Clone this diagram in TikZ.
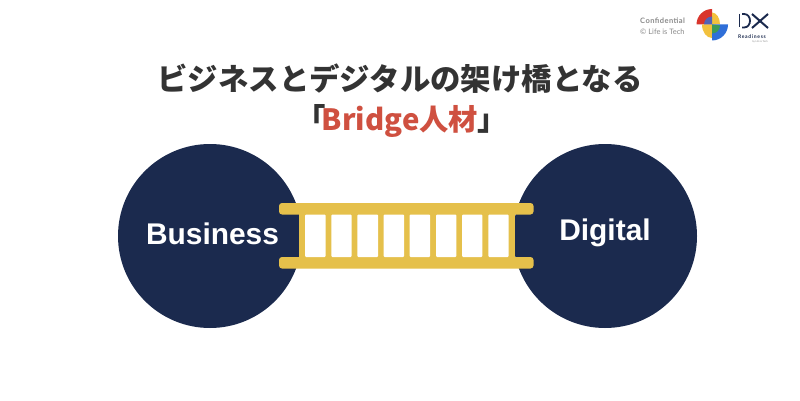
\documentclass[tikz,border=0pt]{standalone}
\usepackage{fontspec}
\setmainfont{Liberation Sans}
\newfontfamily\cjk{Noto Sans CJK JP}
\newfontfamily\lato{Lato}
\newfontfamily\latosp{Lato}[LetterSpace=6]
\newfontfamily\latowide{Lato}[LetterSpace=14]
\definecolor{navy}{HTML}{1B2A4E}
\definecolor{gold}{HTML}{E5C04B}
\definecolor{ink}{HTML}{333333}
\definecolor{brick}{HTML}{CF5040}
\definecolor{grayt}{HTML}{8A8A8A}
\definecolor{gred}{HTML}{D9352C}
\definecolor{gblue}{HTML}{2F6FD8}
\definecolor{gyel}{HTML}{F2C13D}
\definecolor{ggreen}{HTML}{3E9B56}
\tikzset{
  hub/.style={circle,fill=navy,minimum size=184pt,inner sep=0pt},
  hublabel/.style={font=\bfseries\fontsize{29.9}{32}\selectfont,text=white,inner sep=0pt},
  rail/.style={fill=gold,rounded corners=3pt},
  rung/.style={fill=white,rounded corners=1pt},
  title/.style={font=\cjk\bfseries\fontsize{30.4}{34}\selectfont,inner sep=0pt}
}
\begin{document}
\begin{tikzpicture}[x=1pt,y=-1pt]
\useasboundingbox (0,0) rectangle (800,401);
\fill[white] (0,0) rectangle (800,401);
\node[hub] (biz) at (210,236) {};
\node[hub] (dig) at (605,236) {};
% ladder
\fill[gold] (299,210) rectangle (515,262);
\fill[rail] (279,203) rectangle (533.5,214.5);
\fill[rail] (279,257) rectangle (533.5,268.5);
\foreach \a/\b in {305/325.7,331.3/351.7,357.3/378,383.7/404,409.7/430,436/456.3,462/482.3,488.3/508.7}
  \fill[rung] (\a,214.5) rectangle (\b,257);
\node[hublabel] (bl) at (212.5,234) {Business};
\node[hublabel] (dl) at (605,232.5) {Digital};
% title
\node[title,text=ink] (t1) at (400,78.5) {ビジネスとデジタルの架け橋となる};
\node[title,text=ink,anchor=center] (t2) at (401.5,121) {「\kern-4pt\textcolor{brick}{\fontsize{29.3}{34}\selectfont Bridge人材}\kern-1pt」};
% header
\node[font=\latosp\bfseries\fontsize{7.5}{9}\selectfont,text=grayt,anchor=west,inner sep=0pt] (c1) at (640,21) {Confidential};
\node[font=\lato\fontsize{7.5}{9}\selectfont,text=grayt,anchor=west,inner sep=0pt] (c2) at (640,32) {© Life is Tech};
% pie logo
\begin{scope}[shift={(712,24.5)},y=1pt]
\fill[gred] (0,0) -- (-15.5,0) arc (180:90:15.5) -- cycle;
\fill[gyel] (0,0) -- (0,12) arc (90:0:8 and 12) -- cycle;
\fill[gyel] (0,0) -- (0,-13.5) arc (270:180:10 and 13.5) -- cycle;
\fill[gblue] (0,0) -- (16,0) arc (0:-90:16) -- cycle;
\fill[gblue!80!gred] (0,0) -- (-8,0) arc (180:90:8) -- cycle;
\fill[ggreen] (0,0) -- (0,-9) arc (270:360:8) -- cycle;
\end{scope}
% DX logo
\draw[navy,line width=1.8pt] (739.5,14) -- (739.5,27.5);
\draw[navy,line width=1.8pt] (742,14) -- (744,14) .. controls (752,14) and (752,27.5) .. (744,27.5) -- (742,27.5);
\draw[navy,line width=2pt] (752,14) -- (768,28);
\draw[navy,line width=2pt] (768,14) -- (752,28);
\node[font=\latowide\bfseries\fontsize{5}{6}\selectfont,text=navy,inner sep=0pt] (rd) at (752,36.5) {Readiness};
\node[font=\lato\fontsize{2.5}{3}\selectfont,text=grayt,inner sep=0pt] (rb) at (760,41.5) {by Life is Tech};
\end{tikzpicture}
\end{document}
